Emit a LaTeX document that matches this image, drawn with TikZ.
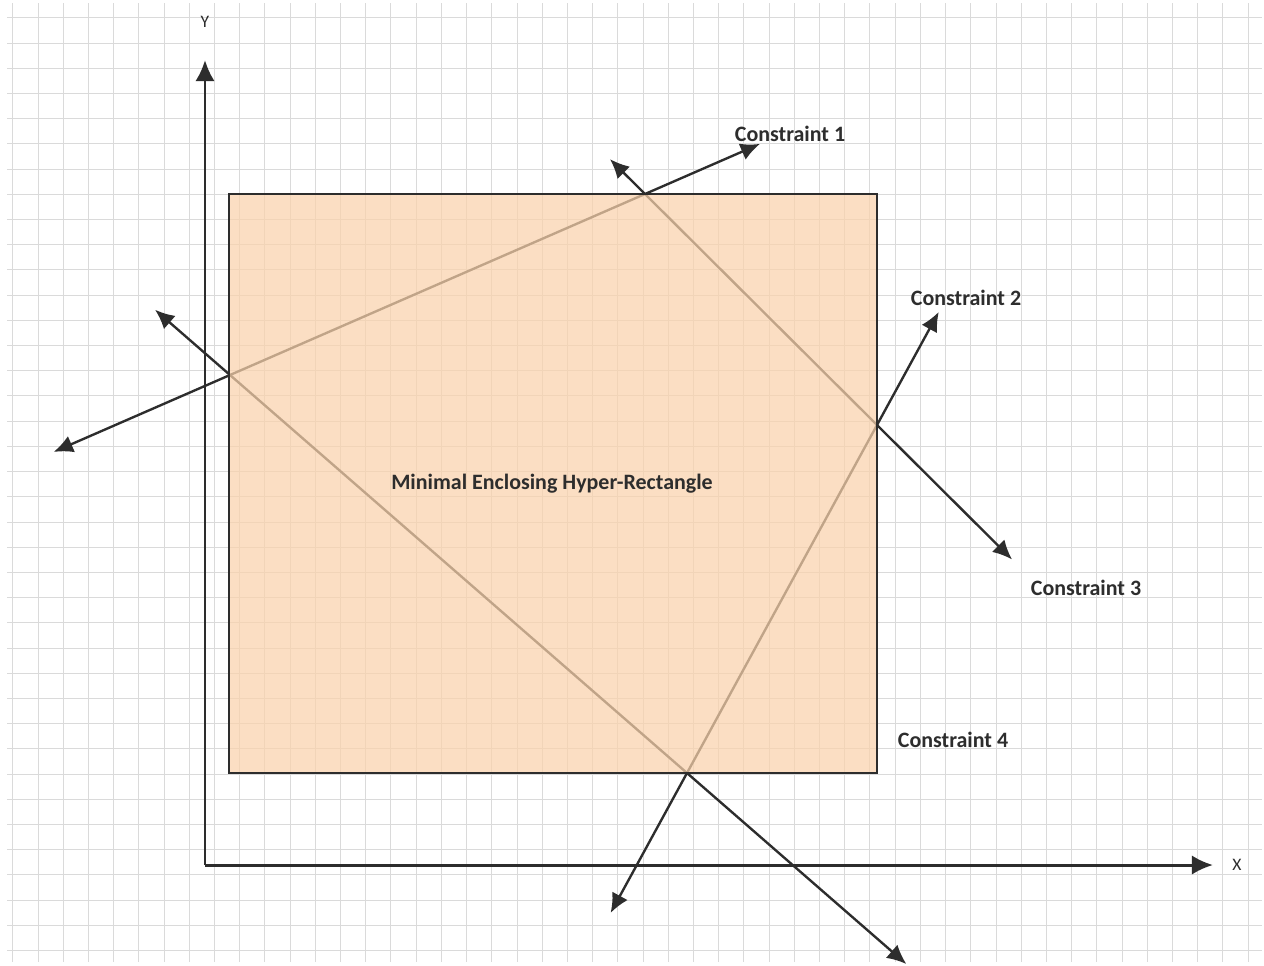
\documentclass[tikz,border=0pt]{standalone}
\usepackage{fontspec}
\setmainfont{Carlito}
\usetikzlibrary{arrows.meta,calc}
\definecolor{gridc}{RGB}{218,218,218}
\definecolor{inkc}{RGB}{45,45,45}
\definecolor{rectfill}{RGB}{250,210,172}
\tikzset{
  gridline/.style={gridc, line width=0.55pt},
  axisline/.style={inkc, line width=1.7pt, -{Latex[length=12pt,width=11pt]}},
  conline/.style={inkc, line width=1.35pt, {Latex[length=11pt,width=10pt]}-{Latex[length=11pt,width=10pt]}},
  hyperrect/.style={fill=rectfill, fill opacity=0.72, draw=none},
  rectborder/.style={draw=inkc, line width=0.9pt},
  clabel/.style={font=\fontsize{12.5}{14}\selectfont\bfseries, text=inkc, inner sep=0pt},
  axlabel/.style={font=\fontsize{10}{12}\selectfont, text=inkc, inner sep=0pt}
}
\begin{document}
\begin{tikzpicture}[x=0.02cm,y=-0.02cm]
\useasboundingbox (0,0) rectangle (1264,965);
\fill[white] (0,0) rectangle (1264,965);
% grid
\foreach \k in {0,...,49} {
  \draw[gridline] ({12.8+25.21*\k},3) -- ({12.8+25.21*\k},962);
}
\foreach \k in {0,...,37} {
  \draw[gridline] (7,{17.8+25.21*\k}) -- (1262,{17.8+25.21*\k});
}
% axes
\coordinate (O) at (205,865);
\coordinate (Ytip) at (205,60);
\coordinate (Xtip) at (1213,865);
\draw[axisline] (O) -- (Ytip);
\draw[axisline] (O) -- (Xtip);
\node[axlabel] (ylab) at (205,22) {Y};
\node[axlabel] (xlab) at (1237,865) {X};
% contact points
\coordinate (P1) at (645,194);
\coordinate (P2) at (230,375);
\coordinate (P3) at (877,425);
\coordinate (P4) at (687,773);
% constraint lines
\coordinate (c1a) at ($(P2)!-0.425!(P1)$);
\coordinate (c1b) at ($(P2)!1.277!(P1)$);
\coordinate (c3a) at ($(P1)!-0.151!(P3)$);
\coordinate (c3b) at ($(P1)!1.582!(P3)$);
\coordinate (c4a) at ($(P2)!-0.164!(P4)$);
\coordinate (c4b) at ($(P2)!1.48!(P4)$);
\coordinate (c2a) at ($(P4)!-0.402!(P3)$);
\coordinate (c2b) at ($(P4)!1.325!(P3)$);
\draw[conline] (c1a) -- (c1b);
\draw[conline] (c3a) -- (c3b);
\draw[conline] (c4a) -- (c4b);
\draw[conline] (c2a) -- (c2b);
% rectangle
\fill[hyperrect] (229,194) rectangle (877,773);
\draw[rectborder] (229,194) rectangle (877,773);
% labels
\node[clabel] (lab1) at (790,134) {Constraint 1};
\node[clabel] (lab2) at (966,298) {Constraint 2};
\node[clabel] (lab3) at (1086,588) {Constraint 3};
\node[clabel] (lab4) at (953,740) {Constraint 4};
\node[clabel] (main) at (552,484) {Minimal Enclosing Hyper-Rectangle};
\end{tikzpicture}
\end{document}
